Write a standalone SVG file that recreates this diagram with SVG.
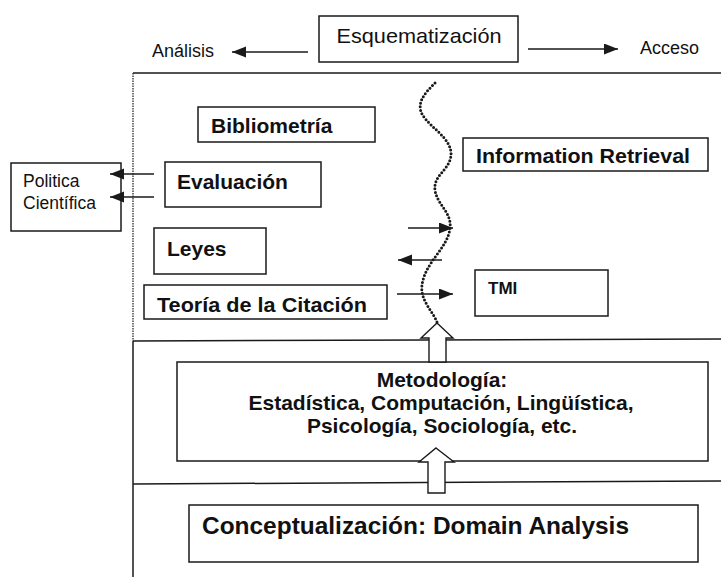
<svg xmlns="http://www.w3.org/2000/svg" width="721" height="577" viewBox="0 0 721 577">
<defs>
<style>
.box{fill:#fff;stroke:#1a1a1a;stroke-width:1.5}
.frame{fill:none;stroke:#1a1a1a;stroke-width:1.5}
.t{font-family:"Liberation Sans",Arial,Helvetica,sans-serif;fill:#111}
.r{font-size:18px}
.b{font-size:21px;font-weight:bold}
.ln{fill:none;stroke:#1a1a1a;stroke-width:1.4}
.hollow{fill:#fff;stroke:#1a1a1a;stroke-width:1.4;stroke-linejoin:miter}
.wave{fill:none;stroke:#1a1a1a;stroke-width:3;stroke-dasharray:0 3.6;stroke-linecap:round}
</style>
<marker id="ah" markerUnits="userSpaceOnUse" markerWidth="15" markerHeight="12" refX="14" refY="5.5" orient="auto">
<path d="M0,0 L14,5.5 L0,11 z" fill="#1a1a1a"/>
</marker>
</defs>
<rect width="721" height="577" fill="#fff"/>

<g id="frame">
<line class="frame" x1="133" y1="73" x2="721" y2="73"/>
<line x1="133" y1="73" x2="133" y2="341" stroke="#1a1a1a" stroke-width="1.2" stroke-dasharray="1.5 1"/>
<line class="frame" x1="133" y1="341" x2="133" y2="577" stroke-width="1.2"/>
<line class="frame" x1="133" y1="341" x2="721" y2="339"/>
<line class="frame" x1="133" y1="484" x2="721" y2="481"/>
</g>

<g id="analisis"><text class="t r" x="152" y="57">Análisis</text></g>
<g id="esquematizacion">
<rect class="box" x="319" y="16" width="199" height="46"/>
<text class="t" x="419" y="43" font-size="21" text-anchor="middle" textLength="165" lengthAdjust="spacingAndGlyphs">Esquematización</text>
</g>
<g id="acceso"><text class="t r" x="640" y="54">Acceso</text></g>

<g id="politica">
<rect class="box" x="11" y="163" width="110" height="68"/>
<text class="t" x="23" y="187" font-size="17.5">Politica</text>
<text class="t" x="23" y="209" font-size="17.5">Científica</text>
</g>

<g id="bibliometria">
<rect class="box" x="198" y="107" width="177" height="35"/>
<text class="t b" x="211" y="133">Bibliometría</text>
</g>
<g id="evaluacion">
<rect class="box" x="165" y="162" width="156" height="45"/>
<text class="t b" x="177" y="189">Evaluación</text>
</g>
<g id="leyes">
<rect class="box" x="154" y="228" width="112" height="46"/>
<text class="t b" x="167" y="256">Leyes</text>
</g>
<g id="teoria">
<rect class="box" x="144" y="285" width="243" height="34"/>
<text class="t b" x="157" y="312" textLength="210" lengthAdjust="spacingAndGlyphs">Teoría de la Citación</text>
</g>
<g id="ir">
<rect class="box" x="463" y="138" width="245" height="33"/>
<text class="t b" x="476" y="163" textLength="214" lengthAdjust="spacingAndGlyphs">Information Retrieval</text>
</g>
<g id="tmi">
<rect class="box" x="475" y="270" width="133" height="46"/>
<text class="t" x="488" y="294" font-size="17" font-weight="bold">TMI</text>
</g>

<g id="metodologia">
<rect class="box" x="177" y="362" width="531" height="99"/>
<text class="t b" x="442" y="387" text-anchor="middle">Metodología:</text>
<text class="t b" x="441" y="410" text-anchor="middle" textLength="385" lengthAdjust="spacingAndGlyphs">Estadística, Computación, Lingüística,</text>
<text class="t b" x="442" y="433" text-anchor="middle" textLength="270" lengthAdjust="spacingAndGlyphs">Psicología, Sociología, etc.</text>
</g>

<g id="conceptualizacion">
<rect class="box" x="189" y="505" width="509" height="57"/>
<text class="t" x="202" y="534" font-size="24" font-weight="bold" textLength="427" lengthAdjust="spacingAndGlyphs">Conceptualización: Domain Analysis</text>
</g>

<g id="connectors">
<line class="ln" x1="308" y1="52" x2="232" y2="52" marker-end="url(#ah)"/>
<line class="ln" x1="528" y1="49" x2="618" y2="49" marker-end="url(#ah)"/>
<line class="ln" x1="154" y1="174" x2="110" y2="174" marker-end="url(#ah)"/>
<line class="ln" x1="154" y1="197" x2="110" y2="197" marker-end="url(#ah)"/>
<line class="ln" x1="408" y1="228" x2="453" y2="228" marker-end="url(#ah)"/>
<line class="ln" x1="442" y1="260" x2="398" y2="260" marker-end="url(#ah)"/>
<line class="ln" x1="397" y1="294" x2="453" y2="294" marker-end="url(#ah)"/>
<path class="wave" d="M435,83 C426,92 416,102 422,114 C430,128 452,138 451,155 C450,170 433,175 435,190 C437,205 452,212 450,228 C448,248 425,262 422,285 C420,300 432,310 437,322"/>
<polygon class="hollow" points="437,323 453,338 446,338 446,362 429,362 429,338 421,338"/>
<polygon class="hollow" points="436,448 454,462 445,462 445,493 428,493 428,462 419,462"/>
</g>
</svg>
